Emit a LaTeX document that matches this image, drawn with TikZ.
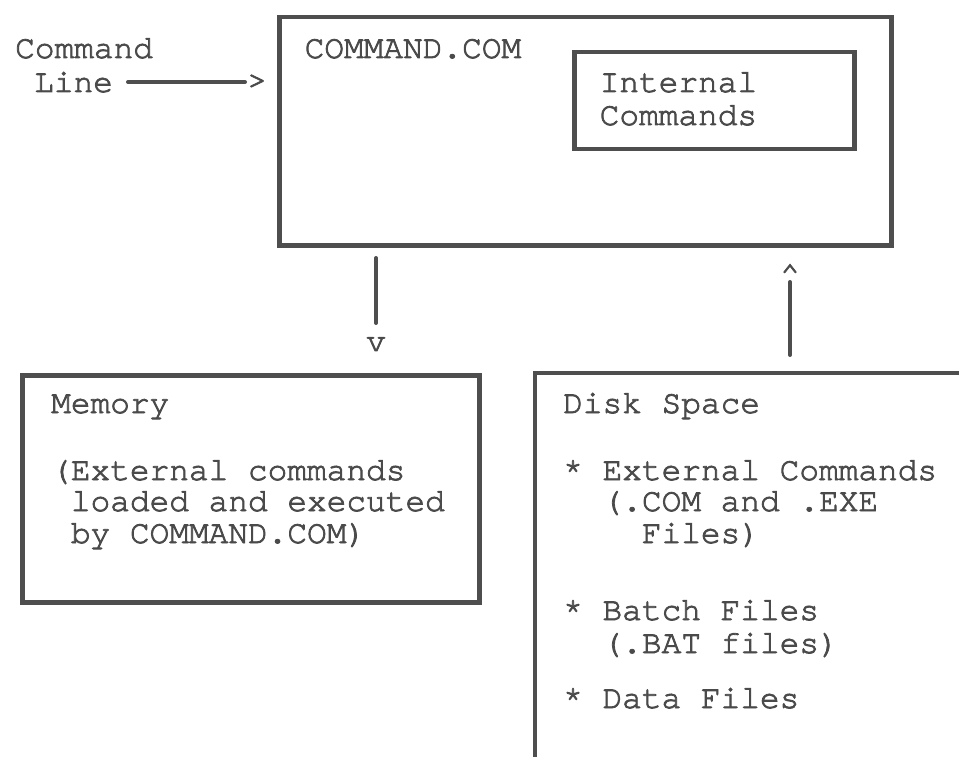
\documentclass[tikz,border=0pt]{standalone}
\usepackage{fontspec}
\IfFontExistsTF{TeX Gyre Cursor}{\setmonofont[FakeBold=2.4,Ligatures=NoCommon]{TeX Gyre Cursor}}{\setmonofont{Liberation Mono}}
\definecolor{ink}{HTML}{4E4E4E}
\definecolor{inkt}{HTML}{4A4A4A}
\begin{document}
\begin{tikzpicture}[x=1pt,y=-1pt,
  txt/.style={font=\ttfamily\fontsize{32.8}{33}\selectfont, text=inkt, inner sep=0pt, anchor=base west},
  sym/.style={font=\ttfamily\fontsize{32.8}{33}\selectfont, text=inkt, inner sep=0pt},
  boxline/.style={draw=ink, line width=4.5pt, inner sep=0pt, anchor=north west},
  conn/.style={draw=ink, line width=4pt, line cap=round}]
\useasboundingbox[fill=white] (0,0) rectangle (959,757);
% boxes
\node[boxline, minimum width=612pt, minimum height=228pt] (main) at (277,15) {};
\node[boxline, minimum width=280pt, minimum height=97pt] (internal) at (572,50) {};
\node[boxline, minimum width=457pt, minimum height=227pt] (memory) at (20,373) {};
\coordinate (dbl) at (535,762);
\coordinate (dtl) at (535,373);
\coordinate (dtr) at (962,373);
\draw[draw=ink, line width=4.5pt] (dbl) -- (dtl) -- (dtr);
% texts
\node[txt] (cmd1) at (15,58) {Command};
\node[txt] (cmd2) at (34,92) {Line};
\node[txt] (maint) at (304.5,58) {COMMAND.COM};
\node[txt] (int1) at (599.5,92) {Internal};
\node[txt] (int2) at (599.5,125) {Commands};
\node[txt] (mem0) at (51,413) {Memory};
\node[txt] (mem1) at (51,480) {(External commands};
\node[txt] (mem2) at (70.7,511) {loaded and executed};
\node[txt] (mem3) at (70.7,543) {by COMMAND.COM)};
\node[txt] (dsk0) at (563,413) {Disk Space};
\node[txt] (dsk1) at (563,480) {* External Commands};
\node[txt] (dsk2) at (602.4,511) {(.COM and .EXE};
\node[txt] (dsk3) at (641.7,543) {Files)};
\node[txt] (dsk4) at (563,620) {* Batch Files};
\node[txt] (dsk5) at (602.4,653) {(.BAT files)};
\node[txt] (dsk6) at (563,708) {* Data Files};
% connectors
\node[sym, anchor=west] (gt) at (247,82) {>};
\coordinate (a1) at (128,82);
\draw[conn] (a1) -- ([xshift=-2pt]gt.west);
\coordinate (b1) at (376,258);
\coordinate (b2) at (376,323);
\node[sym, anchor=north] (vv) at (376,337) {v};
\draw[conn] (b1) -- (b2);
\node[sym, anchor=north] (caret) at (790,264) {\^{}};
\coordinate (c1) at (790,282);
\coordinate (c2) at (790,355);
\draw[conn] (c2) -- (c1);
\end{tikzpicture}
\end{document}
